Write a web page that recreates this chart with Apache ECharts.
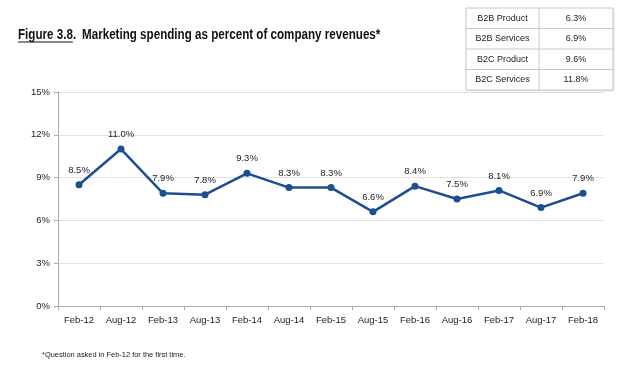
<!DOCTYPE html>
<html>
<head>
<meta charset="utf-8">
<script src="https://cdn.jsdelivr.net/npm/echarts@6/dist/echarts.min.js"></script>
<style>html,body{margin:0;padding:0;background:#fff;}#c{width:621px;height:367px;}</style>
</head>
<body>
<div id="c"></div>
<script>
const categories = ['Feb-12','Aug-12','Feb-13','Aug-13','Feb-14','Aug-14','Feb-15','Aug-15','Feb-16','Aug-16','Feb-17','Aug-17','Feb-18'];
const values = [8.5, 11.0, 7.9, 7.8, 9.3, 8.3, 8.3, 6.6, 8.4, 7.5, 8.1, 6.9, 7.9];
const tableLabels = ['B2B Product','B2B Services','B2C Product','B2C Services'];
const tableValues = ['6.3%','6.9%','9.6%','11.8%'];
const titlePrefix = 'Figure 3.8';
const titleText = 'Marketing spending as percent of company revenues*';
const footnote = '*Question asked in Feb-12 for the first time.';

const FONT = '"Liberation Sans", Arial, sans-serif';
const chart = echarts.init(document.getElementById('c'), null, {renderer: 'canvas'});

const ctx = document.createElement('canvas').getContext('2d');
const TFONT = 'bold 14px ' + FONT;
ctx.font = TFONT;
const S = 0.83;
const w1 = ctx.measureText(titlePrefix).width * S;

const graphics = [];
// title
graphics.push({type:'text', x: 18, y: 28, scaleX: S, originX: 0, style:{text: titlePrefix + '.', font: TFONT, fill:'#111'}});
graphics.push({type:'line', shape:{x1:18, y1:42, x2:18 + w1, y2:42}, style:{stroke:'#111', lineWidth:1}});
graphics.push({type:'text', x: 82, y: 28, scaleX: S, originX: 0, style:{text: titleText, font: TFONT, fill:'#111'}});
// table
const tx = 466, tw = 147, cx = 539, ty = 8, rh = 20.5;
graphics.push({type:'rect', shape:{x:tx+1.5, y:ty+1.5, width:tw, height:rh*tableLabels.length}, style:{fill:'#e6e6e6'}});
graphics.push({type:'rect', shape:{x:tx, y:ty, width:tw, height:rh*tableLabels.length}, style:{fill:'#fff', stroke:'#c8c8c8', lineWidth:1}});
graphics.push({type:'line', shape:{x1:cx, y1:ty, x2:cx, y2:ty+rh*tableLabels.length}, style:{stroke:'#c8c8c8', lineWidth:1}});
tableLabels.forEach((lab, i) => {
  if (i > 0) graphics.push({type:'line', shape:{x1:tx, y1:ty+rh*i, x2:tx+tw, y2:ty+rh*i}, style:{stroke:'#c8c8c8', lineWidth:1}});
  graphics.push({type:'text', x:(tx+cx)/2, y:ty+rh*i+rh/2, style:{text:lab, font:'9px ' + FONT, fill:'#222', align:'center', verticalAlign:'middle'}});
  graphics.push({type:'text', x:(cx+tx+tw)/2, y:ty+rh*i+rh/2, style:{text:tableValues[i], font:'9px ' + FONT, fill:'#222', align:'center', verticalAlign:'middle'}});
});
// footnote
graphics.push({type:'text', x: 42, y: 351, scaleX: 0.93, originX: 0, style:{text: footnote, font:'8px ' + FONT, fill:'#222'}});

chart.setOption({
  animation: false,
  backgroundColor: '#fff',
  grid: {left: 58, right: 17, top: 92, bottom: 61},
  xAxis: {
    type: 'category',
    data: categories,
    boundaryGap: true,
    axisLine: {lineStyle: {color: '#aaa'}},
    axisTick: {show: true, alignWithLabel: false, length: 4, lineStyle: {color: '#aaa'}},
    axisLabel: {color: '#222', fontSize: 9.5, fontFamily: FONT, margin: 9}
  },
  yAxis: {
    type: 'value', min: 0, max: 15, interval: 3,
    axisLine: {show: true, lineStyle: {color: '#aaa'}},
    axisTick: {show: true, length: 4, lineStyle: {color: '#aaa'}},
    axisLabel: {color: '#222', fontSize: 9.5, fontFamily: FONT, margin: 8, formatter: v => v + '%'},
    splitLine: {lineStyle: {color: '#e2e2e2'}}
  },
  series: [{
    type: 'line',
    data: values,
    symbol: 'circle',
    symbolSize: 7,
    lineStyle: {color: '#1c4f8f', width: 2.5},
    itemStyle: {color: '#1c4f8f'},
    label: {show: true, position: 'top', distance: 6, color: '#222', fontSize: 9.5, fontFamily: FONT, formatter: p => p.value.toFixed(1) + '%'}
  }],
  graphic: graphics
});
</script>
</body>
</html>
